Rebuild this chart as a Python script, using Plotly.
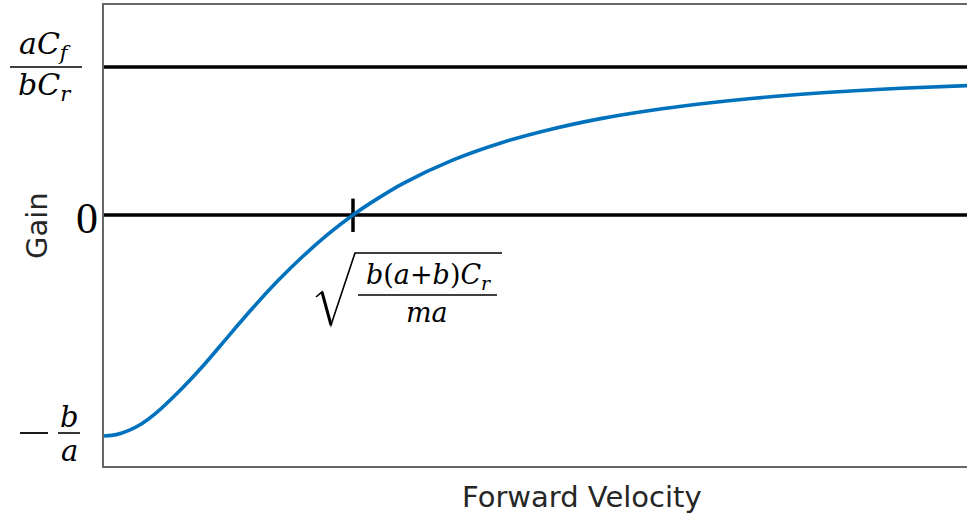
import plotly.graph_objects as go

# Gain vs. forward velocity (normalised units: crossover speed = 1, -b/a = -1)
velocity = [0.0, 0.05, 0.1, 0.15, 0.2, 0.3, 0.4, 0.5, 0.6, 0.7, 0.8, 0.9, 1.0,
            1.1, 1.2, 1.4, 1.6, 1.8, 2.0, 2.2, 2.4, 2.6, 2.8, 3.0, 3.2, 3.466]
gain = [-1.0, -0.994, -0.975, -0.946, -0.905, -0.80, -0.68, -0.548, -0.418,
        -0.296, -0.186, -0.087, 0.0, 0.075, 0.142, 0.248, 0.328, 0.389, 0.437,
        0.474, 0.503, 0.527, 0.546, 0.561, 0.573, 0.585]

asymptote = 0.670      # aCf / (bCr)
crossover = 1.0        # sqrt(b(a+b)Cr / (m a))
x_max = 3.466
y_range = [-1.136, 0.950]

W, H = 967, 515
L, R, T, B = 104, 0, 5, 49
PW, PH = W - L - R, H - T - B


def px(x):
    return (x - L) / PW


def py(y):
    return (H - B - y) / PH


fig = go.Figure()

# reference lines
fig.add_trace(go.Scatter(x=[0, x_max], y=[asymptote, asymptote], mode="lines",
                         line=dict(color="black", width=3.5), hoverinfo="skip"))
fig.add_trace(go.Scatter(x=[0, x_max], y=[0, 0], mode="lines",
                         line=dict(color="black", width=3.5), hoverinfo="skip"))
# crossover marker
fig.add_trace(go.Scatter(x=[crossover, crossover], y=[-0.077, 0.074], mode="lines",
                         line=dict(color="black", width=3.5), hoverinfo="skip"))
# gain curve
fig.add_trace(go.Scatter(x=velocity, y=gain, mode="lines",
                         line=dict(color="#0072BD", width=3.6, shape="spline",
                                   smoothing=0.8),
                         hoverinfo="skip"))

serif = "DejaVu Serif, serif"
ann = []
shapes = []


def text(x, y, s, size, family=serif, color="black", angle=0):
    ann.append(dict(x=px(x), y=py(y), xref="paper", yref="paper", text=s,
                    showarrow=False, xanchor="center", yanchor="middle",
                    textangle=angle, font=dict(family=family, size=size, color=color)))


def hline(x0, x1, y, w=1.6):
    shapes.append(dict(type="line", xref="paper", yref="paper",
                       x0=px(x0), x1=px(x1), y0=py(y), y1=py(y),
                       line=dict(color="black", width=w)))


# aCf / bCr
text(45, 45, "<i>aC</i><sub><i>f</i></sub>", 30)
hline(10, 82, 67)
text(45, 87, "<i>bC</i><sub><i>r</i></sub>", 30)

# 0
text(87, 218, "0", 44, family="Liberation Serif, serif")

# -b/a
hline(20, 48, 433, 1.8)
text(69, 417, "<i>b</i>", 29)
hline(58, 80, 433)
text(69, 451, "<i>a</i>", 29)

# sqrt(b(a+b)Cr / ma)
text(428, 276, "<i>b</i>(<i>a</i>+<i>b</i>)<i>C</i><sub><i>r</i></sub>", 27)
hline(358, 497, 295)
text(427, 312, "<i>ma</i>", 27)
shapes.append(dict(type="path", xref="paper", yref="paper",
                   path=("M {} {} L {} {} L {} {} L {} {} L {} {}".format(
                       px(316), py(297), px(322), py(292), px(331), py(325),
                       px(355), py(253), px(502), py(253))),
                   line=dict(color="black", width=1.6)))
shapes.append(dict(type="line", xref="paper", yref="paper",
                   x0=px(322), y0=py(292), x1=px(331), y1=py(325),
                   line=dict(color="black", width=3)))

# axis titles
sans = "DejaVu Sans, sans-serif"
text(37, 226, "Gain", 29, family=sans, color="#262626", angle=-90)
text(582, 497, "Forward Velocity", 29, family=sans, color="#262626")

fig.update_layout(
    width=W, height=H,
    margin=dict(l=L, r=R, t=T, b=B),
    paper_bgcolor="white", plot_bgcolor="white",
    showlegend=False,
    annotations=ann, shapes=shapes,
    xaxis=dict(range=[0, x_max], showgrid=False, zeroline=False,
               showticklabels=False, ticks="", showline=True, mirror=True,
               linecolor="#666666", linewidth=1.5),
    yaxis=dict(range=y_range, showgrid=False, zeroline=False,
               showticklabels=False, ticks="", showline=True, mirror=False,
               linecolor="#666666", linewidth=1.5),
)

fig.write_html("out.html")
